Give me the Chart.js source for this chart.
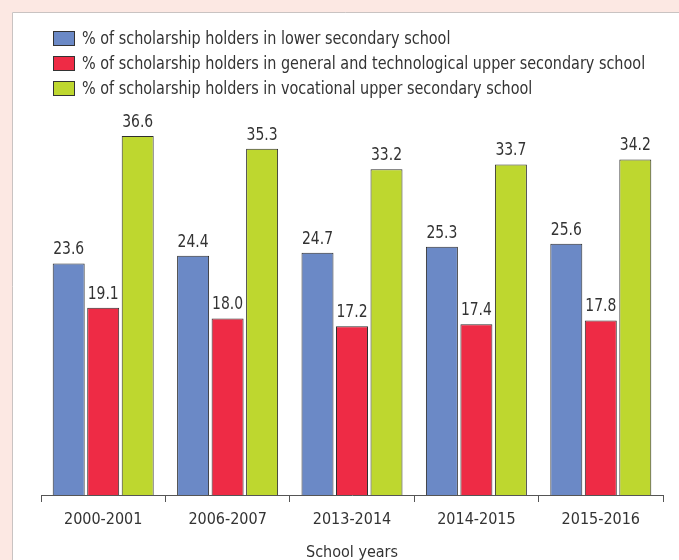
<!DOCTYPE html>
<html>
<head>
<meta charset="utf-8">
<script src="https://cdn.jsdelivr.net/npm/chart.js@4.4.1/dist/chart.umd.min.js"></script>
<style>
  html, body { margin: 0; padding: 0; background: #fce8e3; }
  #wrap { width: 679px; height: 560px; }
</style>
</head>
<body>
<div id="wrap"><canvas id="chart" width="679" height="560"></canvas></div>
<script>
const FONT = "'DejaVu Sans Condensed', 'DejaVu Sans', sans-serif";
const TEXT = '#333333';

const schoolYears = ['2000-2001', '2006-2007', '2013-2014', '2014-2015', '2015-2016'];
const lowerSecondary = [23.6, 24.4, 24.7, 25.3, 25.6];
const generalTechUpper = [19.1, 18.0, 17.2, 17.4, 17.8];
const vocationalUpper = [36.6, 35.3, 33.2, 33.7, 34.2];

const seriesNames = [
    '% of scholarship holders in lower secondary school',
    '% of scholarship holders in general and technological upper secondary school',
    '% of scholarship holders in vocational upper secondary school'
];
const seriesColors = ['#6b89c6', '#ee2b45', '#bed72f'];

// narrow text: draw with a horizontal squeeze around (x, y)
function narrowText(ctx, text, x, y, squeeze) {
    ctx.save();
    ctx.translate(x, y);
    ctx.scale(squeeze, 1);
    ctx.fillText(text, 0, 0);
    ctx.restore();
}

// pink page with the white panel behind the chart
const panelBackground = {
    id: 'panelBackground',
    beforeDraw(chart) {
        const ctx = chart.ctx;
        ctx.save();
        ctx.fillStyle = '#fce8e3';
        ctx.fillRect(0, 0, chart.width, chart.height);
        ctx.fillStyle = '#ffffff';
        ctx.fillRect(12, 12, chart.width, chart.height);
        ctx.strokeStyle = '#c9c3c2';
        ctx.lineWidth = 1;
        ctx.beginPath();
        ctx.moveTo(12.5, chart.height);
        ctx.lineTo(12.5, 12.5);
        ctx.lineTo(chart.width, 12.5);
        ctx.stroke();
        ctx.restore();
    }
};

// legend stacked in rows at the top left
const stackedLegend = {
    id: 'stackedLegend',
    afterDraw(chart) {
        const ctx = chart.ctx;
        ctx.save();
        ctx.font = '18px ' + FONT;
        ctx.textBaseline = 'middle';
        chart.data.datasets.forEach((ds, i) => {
            const cy = 38 + i * 25;
            ctx.fillStyle = ds.backgroundColor;
            ctx.fillRect(53, cy - 7, 22, 15);
            ctx.strokeStyle = '#333333';
            ctx.lineWidth = 1;
            ctx.strokeRect(53.5, cy - 6.5, 21, 14);
            ctx.fillStyle = TEXT;
            narrowText(ctx, ds.label, 82, cy + 1, 0.89);
        });
        ctx.restore();
    }
};

// value written above each bar
const valueLabels = {
    id: 'valueLabels',
    afterDatasetsDraw(chart) {
        const ctx = chart.ctx;
        ctx.save();
        ctx.font = '18px ' + FONT;
        ctx.fillStyle = TEXT;
        ctx.textAlign = 'center';
        ctx.textBaseline = 'alphabetic';
        chart.data.datasets.forEach((ds, i) => {
            chart.getDatasetMeta(i).data.forEach((bar, j) => {
                narrowText(ctx, ds.data[j].toFixed(1), bar.x, bar.y - 9, 0.86);
            });
        });
        ctx.restore();
    }
};

const seriesData = [lowerSecondary, generalTechUpper, vocationalUpper];

new Chart(document.getElementById('chart'), {
    type: 'bar',
    data: {
        labels: schoolYears,
        datasets: seriesData.map((values, i) => ({
            label: seriesNames[i],
            data: values,
            backgroundColor: seriesColors[i],
            borderColor: '#2e2e2e',
            borderWidth: 1,
            categoryPercentage: 0.832,
            barPercentage: 0.927
        }))
    },
    options: {
        responsive: false,
        animation: false,
        layout: { padding: { top: 102.6, left: 41, right: 16, bottom: 0 } },
        plugins: {
            legend: { display: false },
            tooltip: { enabled: false }
        },
        scales: {
            y: {
                display: false,
                min: 0,
                max: 40
            },
            x: {
                afterFit(scale) { scale.height = 65; },
                grid: {
                    offset: true,
                    drawOnChartArea: false,
                    drawTicks: true,
                    tickLength: 7,
                    color: '#555555'
                },
                border: { color: '#555555', width: 1 },
                ticks: {
                    color: TEXT,
                    padding: 8,
                    font: { family: FONT, size: 16 }
                },
                title: {
                    display: true,
                    text: 'School years',
                    color: TEXT,
                    font: { family: FONT, size: 16, lineHeight: 0.875 },
                    padding: { top: 0, bottom: 0 }
                }
            }
        }
    },
    plugins: [panelBackground, stackedLegend, valueLabels]
});
</script>
</body>
</html>
